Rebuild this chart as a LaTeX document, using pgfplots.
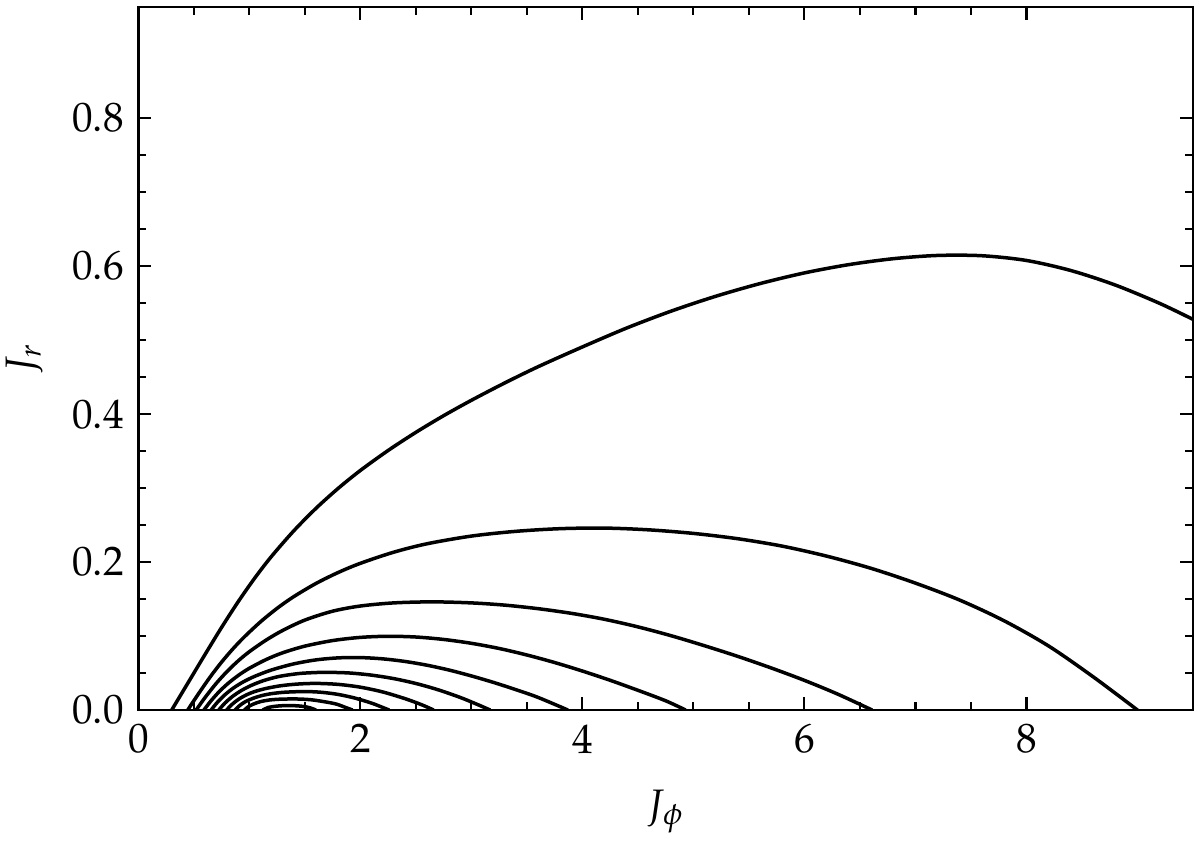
\documentclass[border=0pt]{standalone}
\usepackage{mathpazo}
\usepackage{pgfplots}
\pgfplotsset{compat=1.18}

\begin{document}
\begin{tikzpicture}
    \begin{axis}[
        scale only axis,
        width=9cm,
        height=6cm,
        xmin=0, xmax=9.5,
        ymin=0, ymax=0.95,
        xtick={0,2,4,6,8},
        ytick={0,0.2,0.4,0.6,0.8},
        minor x tick num=3,
        minor y tick num=3,
        tick align=inside,
        major tick length=3.1pt,
        minor tick length=1.9pt,
        every tick/.style={black, line width=0.5pt},
        axis line style={line width=0.6pt},
        yticklabel style={/pgf/number format/.cd, fixed, fixed zerofill, precision=1},
        xlabel={$J_\phi$},
        ylabel={$J_r$},
        every axis x label/.style={at={(axis description cs:0.5,-0.144)}, anchor=center},
        every axis y label/.style={at={(axis description cs:-0.108,0.5)}, anchor=center, rotate=90},
        orbit/.style={black, no markers, line width=0.85pt, smooth, tension=0.5},
    ]
        % outermost orbit, leaves the frame on the right
        \addplot[orbit] coordinates {
            (0.30,0) (0.45,0.0375) (0.60,0.075) (0.75,0.1118) (0.90,0.1466) (1.05,0.1787)
            (1.20,0.2078) (1.40,0.2422) (1.60,0.2726) (1.80,0.2996) (2.00,0.3238) (2.25,0.3508)
            (2.50,0.3753) (2.75,0.3978) (3.00,0.4186) (3.30,0.442) (3.60,0.4639) (4.00,0.4907)
            (4.40,0.5163) (4.80,0.5391) (5.20,0.5591) (5.60,0.5763) (6.00,0.5907) (6.40,0.6019)
            (6.80,0.6099) (7.20,0.6143) (7.60,0.6139) (8.00,0.6075) (8.40,0.5939) (8.80,0.5743)
            (9.20,0.5495) (9.50,0.5279)
        };
        \addplot[orbit] coordinates {
            (0.444,0) (0.55,0.0239) (0.65,0.0454) (0.75,0.0649) (0.85,0.0824) (0.95,0.0982)
            (1.10,0.1192) (1.25,0.1375) (1.40,0.1533) (1.60,0.1711) (1.80,0.1859) (2.00,0.1983)
            (2.30,0.2133) (2.60,0.2247) (3.00,0.2351) (3.40,0.2415) (3.80,0.2451) (4.20,0.2459)
            (4.60,0.2435) (5.00,0.2387) (5.40,0.2315) (5.80,0.2215) (6.20,0.208) (6.60,0.1915)
            (7.00,0.1715) (7.40,0.1485) (7.80,0.1205) (8.20,0.0865) (8.60,0.045) (9.00,0)
        };
        \addplot[orbit] coordinates {
            (0.52,0) (0.60,0.0168) (0.70,0.0358) (0.80,0.0523) (0.90,0.0666) (1.00,0.0789)
            (1.15,0.0945) (1.30,0.1076) (1.50,0.1216) (1.75,0.1336) (2.00,0.1406) (2.30,0.1448)
            (2.65,0.1462) (3.00,0.1448) (3.30,0.1418) (3.60,0.137) (3.90,0.1307) (4.20,0.1226)
            (4.50,0.1124) (4.80,0.1004) (5.10,0.0869) (5.40,0.0725) (5.70,0.0569) (6.00,0.0401)
            (6.30,0.0215) (6.61,0)
        };
        \addplot[orbit] coordinates {
            (0.59,0) (0.65,0.0117) (0.72,0.0236) (0.80,0.035) (0.90,0.0468) (1.00,0.0565)
            (1.15,0.0682) (1.30,0.0774) (1.50,0.0864) (1.75,0.0939) (2.00,0.0982) (2.25,0.0997)
            (2.50,0.0987) (2.75,0.0954) (3.00,0.0902) (3.25,0.0832) (3.50,0.0744) (3.75,0.0642)
            (4.00,0.0527) (4.25,0.0402) (4.50,0.0267) (4.75,0.0125) (4.93,0)
        };
        \addplot[orbit] coordinates {
            (0.655,0) (0.71,0.0102) (0.78,0.0207) (0.86,0.0302) (0.95,0.0385) (1.05,0.0457)
            (1.20,0.0542) (1.40,0.0624) (1.60,0.0678) (1.80,0.0705) (2.00,0.0709) (2.20,0.0692)
            (2.40,0.0657) (2.60,0.0606) (2.80,0.054) (3.00,0.0461) (3.20,0.0373) (3.40,0.0276)
            (3.60,0.0171) (3.87,0)
        };
        \addplot[orbit] coordinates {
            (0.724,0) (0.78,0.0095) (0.85,0.0186) (0.93,0.0266) (1.02,0.0335) (1.13,0.0399)
            (1.27,0.0455) (1.45,0.0494) (1.60,0.0507) (1.70,0.051) (1.90,0.0501) (2.10,0.0472)
            (2.30,0.0425) (2.50,0.0359) (2.70,0.0274) (2.90,0.017) (3.05,0.0078) (3.17,0)
        };
        \addplot[orbit] coordinates {
            (0.795,0) (0.84,0.0072) (0.90,0.0143) (0.97,0.0203) (1.05,0.0251) (1.15,0.0292)
            (1.28,0.0328) (1.43,0.0351) (1.60,0.036) (1.80,0.0347) (2.00,0.0309) (2.20,0.0245)
            (2.40,0.0155) (2.55,0.0073) (2.66,0)
        };
        \addplot[orbit] coordinates {
            (0.87,0) (0.91,0.0058) (0.96,0.011) (1.03,0.0157) (1.11,0.0195) (1.20,0.0222)
            (1.32,0.0241) (1.50,0.025) (1.65,0.024) (1.80,0.0211) (1.95,0.0162) (2.10,0.0094)
            (2.20,0.0036) (2.26,0)
        };
        \addplot[orbit] coordinates {
            (0.955,0) (0.99,0.0045) (1.04,0.0083) (1.10,0.0114) (1.18,0.0136) (1.28,0.0147)
            (1.42,0.015) (1.55,0.014) (1.67,0.0114) (1.78,0.0082) (1.87,0.0033) (1.93,0)
        };
        % innermost orbit
        \addplot[orbit] coordinates {
            (1.12,0) (1.17,0.0035) (1.24,0.0052) (1.30,0.0059) (1.36,0.006) (1.42,0.0058)
            (1.48,0.005) (1.54,0.0033) (1.60,0)
        };
    \end{axis}
    \pgfresetboundingbox
    \path[use as bounding box]
        ([shift={(-33.6pt,-32.9pt)}]current axis.south west)
        rectangle ([shift={(1.7pt,1.7pt)}]current axis.north east);
\end{tikzpicture}
\end{document}
